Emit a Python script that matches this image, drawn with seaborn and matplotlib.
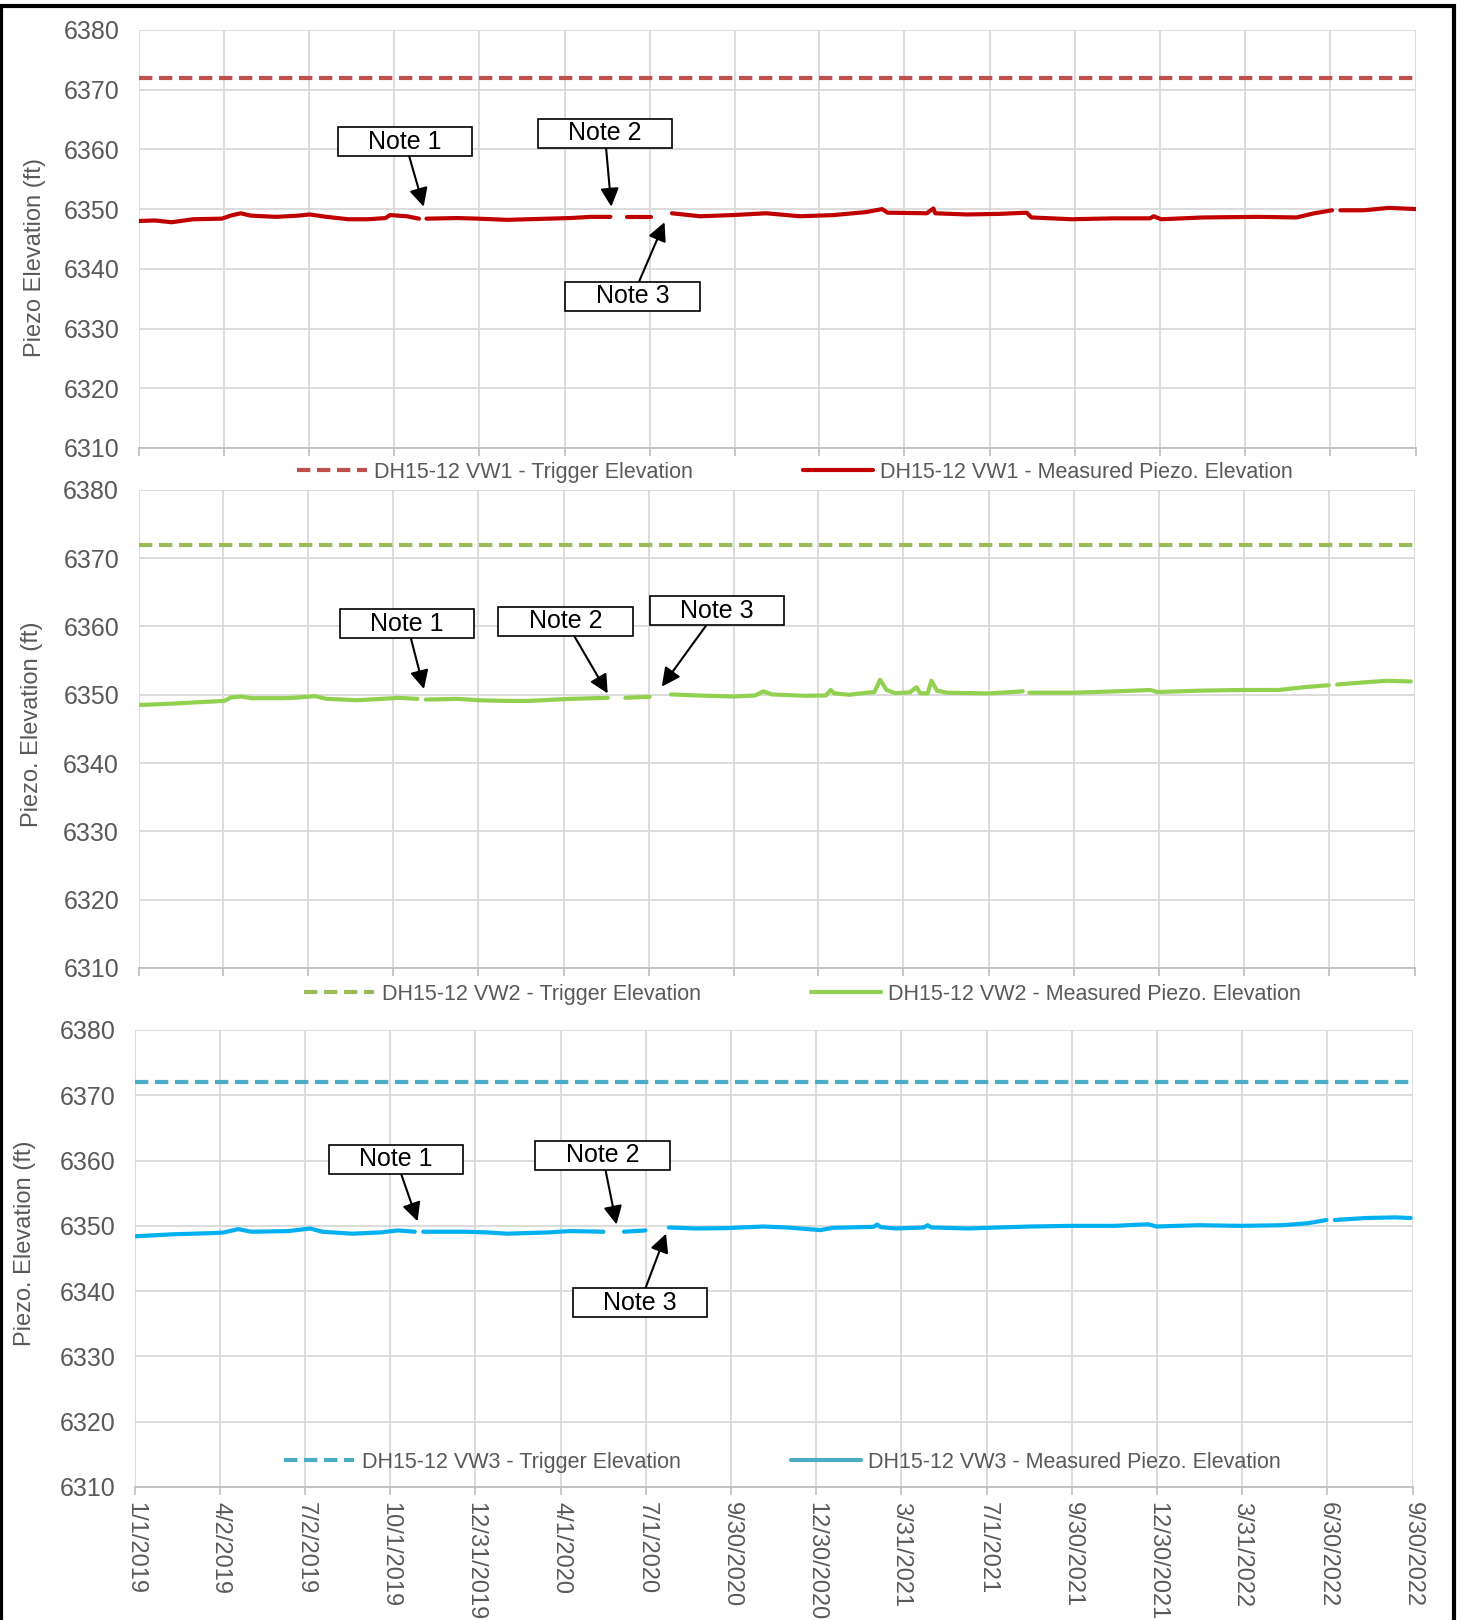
import numpy as np
import pandas as pd
import matplotlib
matplotlib.use('Agg')
import matplotlib.pyplot as plt
import seaborn as sns
from matplotlib.lines import Line2D
from matplotlib.patches import Rectangle

# Piezometer readings (days since 1/1/2019, elevation ft); NaN marks a data gap
start_date = pd.Timestamp('2019-01-01')
end_date = pd.Timestamp('2022-09-30')

days_vw1 = [0, 17, 35, 58, 89, 98, 109, 120, 147, 170, 183, 201, 224, 246, 264, 269, 287, 300, 304,
            308, 341, 363, 395, 417, 462, 484, 505, 514, 523, 548, 560,
            571, 601, 636, 672, 708, 744, 779, 796, 802, 844, 851, 853, 887, 922, 951, 956,
            999, 1044, 1083, 1087, 1095, 1140, 1198, 1240, 1259, 1278, 1282, 1287, 1312, 1339, 1368]
elev_vw1 = [6348.0, 6348.1, 6347.8, 6348.3, 6348.4, 6348.9, 6349.3, 6348.9, 6348.7, 6348.9, 6349.1,
            6348.7, 6348.3, 6348.3, 6348.5, 6349.0, 6348.8, 6348.4, np.nan,
            6348.4, 6348.5, 6348.4, 6348.2, 6348.3, 6348.5, 6348.7, 6348.7, np.nan, 6348.7, 6348.7, np.nan,
            6349.3, 6348.8, 6349.0, 6349.3, 6348.8, 6349.0, 6349.5, 6350.0, 6349.4, 6349.3, 6350.1,
            6349.3, 6349.1, 6349.2, 6349.4, 6348.6,
            6348.3, 6348.45, 6348.45, 6348.8, 6348.3, 6348.6, 6348.7, 6348.6, 6349.3, 6349.8, np.nan,
            6349.8, 6349.8, 6350.2, 6350.0]

days_vw2 = [0, 36, 63, 92, 99, 110, 121, 157, 171, 189, 202, 234, 261, 279, 299, 303,
            308, 342, 364, 396, 418, 463, 503, 512, 522, 548, 560,
            571, 598, 638, 661, 670, 679, 715, 737, 742, 746, 762, 777, 789, 795, 802, 811,
            827, 834, 838, 846, 850, 856, 867, 912, 948, 951,
            955, 1002, 1047, 1085, 1092, 1137, 1182, 1222, 1249, 1276, 1280,
            1285, 1317, 1339, 1364]
elev_vw2 = [6348.5, 6348.7, 6348.9, 6349.1, 6349.6, 6349.75, 6349.5, 6349.5, 6349.6, 6349.8, 6349.4,
            6349.2, 6349.4, 6349.55, 6349.4, np.nan,
            6349.3, 6349.4, 6349.2, 6349.1, 6349.1, 6349.4, 6349.55, np.nan, 6349.55, 6349.7, np.nan,
            6350.05, 6349.9, 6349.75, 6349.9, 6350.5, 6350.05, 6349.85, 6349.9, 6350.7, 6350.2,
            6350.0, 6350.25, 6350.4, 6352.2, 6350.7, 6350.25,
            6350.35, 6351.1, 6350.25, 6350.2, 6352.05, 6350.6, 6350.3, 6350.2, 6350.5, np.nan,
            6350.3, 6350.3, 6350.5, 6350.7, 6350.4, 6350.6, 6350.7, 6350.7, 6351.1, 6351.4, np.nan,
            6351.5, 6351.85, 6352.05, 6351.95]

days_vw3 = [0, 39, 84, 95, 110, 124, 164, 187, 200, 232, 263, 281, 299, 303,
            308, 353, 376, 398, 443, 465, 501, 512, 523, 546, 558,
            571, 600, 632, 672, 698, 733, 747, 790, 794, 798, 814, 844, 848, 852, 891,
            958, 1003, 1048, 1084, 1093, 1138, 1183, 1228, 1255, 1275, 1280,
            1284, 1317, 1349, 1365]
elev_vw3 = [6348.4, 6348.7, 6348.9, 6349.0, 6349.5, 6349.1, 6349.2, 6349.6, 6349.1, 6348.8, 6349.0,
            6349.3, 6349.1, np.nan,
            6349.1, 6349.1, 6349.0, 6348.8, 6349.0, 6349.2, 6349.1, np.nan, 6349.1, 6349.3, np.nan,
            6349.75, 6349.6, 6349.65, 6349.9, 6349.75, 6349.35, 6349.7, 6349.85, 6350.2, 6349.8,
            6349.6, 6349.75, 6350.1, 6349.75, 6349.6,
            6349.9, 6350.0, 6350.0, 6350.25, 6349.9, 6350.1, 6350.0, 6350.1, 6350.4, 6350.9, np.nan,
            6350.9, 6351.2, 6351.3, 6351.2]

trigger_elev = [6372, 6372, 6372]
sensor_names = ['DH15-12 VW1', 'DH15-12 VW2', 'DH15-12 VW3']
y_labels = ['Piezo Elevation (ft)', 'Piezo. Elevation (ft)', 'Piezo. Elevation (ft)']

tick_labels = ['1/1/2019', '4/2/2019', '7/2/2019', '10/1/2019', '12/31/2019', '4/1/2020',
               '7/1/2020', '9/30/2020', '12/30/2020', '3/31/2021', '7/1/2021', '9/30/2021',
               '12/30/2021', '3/31/2022', '6/30/2022', '9/30/2022']
tick_dates = pd.to_datetime(tick_labels, format='%m/%d/%Y')

# notes: (text, text day, text elev, arrow day, arrow elev)
notes_vw1 = [('Note 1', 285, 6361.3, 305, 6350.4),
             ('Note 2', 499, 6362.7, 506, 6350.4),
             ('Note 3', 529, 6335.4, 563, 6347.8)]
notes_vw2 = [('Note 1', 288, 6360.4, 306, 6350.85),
             ('Note 2', 458, 6360.75, 503, 6350.2),
             ('Note 3', 620, 6362.3, 561, 6351.2)]
notes_vw3 = [('Note 1', 279, 6360.2, 302, 6350.7),
             ('Note 2', 500, 6360.8, 515, 6350.2),
             ('Note 3', 540, 6338.2, 568, 6348.8)]


def make_frame(days, elev):
    df = pd.DataFrame({'day': days, 'elev': elev})
    df['seg'] = df['elev'].isna().cumsum()
    df = df.dropna()
    df['date'] = start_date + pd.to_timedelta(df['day'], unit='D')
    return df


sns.set_theme(style='white')
plt.rcParams['font.family'] = ['Liberation Sans', 'DejaVu Sans']

fig = plt.figure(figsize=(14.61, 16.2), dpi=100)

panels = [
    dict(rect=[0.0951, 0.7235, 0.8741, 0.2580], days=days_vw1, elev=elev_vw1,
         meas='#C00000', trig='#C0504D', handle='#C00000', notes=notes_vw1,
         ylab_xy=(-0.073, 0.455), leg_xy=(0.544, 0.7086)),
    dict(rect=[0.0948, 0.4025, 0.8734, 0.2951], days=days_vw2, elev=elev_vw2,
         meas='#92D050', trig='#9BBB59', handle='#92D050', notes=notes_vw2,
         ylab_xy=(-0.075, 0.51), leg_xy=(0.5495, 0.3864)),
    dict(rect=[0.0927, 0.0821, 0.8747, 0.2821], days=days_vw3, elev=elev_vw3,
         meas='#00B0F0', trig='#4BACC6', handle='#4BACC6', notes=notes_vw3,
         ylab_xy=(-0.078, 0.534), leg_xy=(0.5357, 0.0975)),
]

for i, p in enumerate(panels):
    ax = fig.add_axes(p['rect'])
    df = make_frame(p['days'], p['elev'])

    # trigger line
    sns.lineplot(x=[start_date, end_date], y=[trigger_elev[i], trigger_elev[i]],
                 color=p['trig'], lw=3, ax=ax, legend=False)
    ax.lines[-1].set_dashes((3.2, 1.6))

    # measured piezo elevation
    sns.lineplot(data=df, x='date', y='elev', units='seg', estimator=None,
                 color=p['meas'], lw=3, ax=ax, legend=False)

    ax.set_xlim(start_date, end_date)
    ax.set_ylim(6310, 6380)
    ax.set_yticks(range(6310, 6381, 10))
    ax.set_xticks(tick_dates)
    if i == 2:
        ax.set_xticklabels(tick_labels, rotation=270)
    else:
        ax.set_xticklabels([])

    ax.grid(True, color='#D9D9D9', lw=1.3)
    ax.set_axisbelow(True)
    for side in ['top', 'right', 'left']:
        ax.spines[side].set_visible(False)
    ax.spines['bottom'].set_color('#BFBFBF')
    ax.spines['bottom'].set_linewidth(1.3)
    ax.tick_params(axis='x', bottom=True, direction='out', length=6, width=1.2,
                   color='#BFBFBF', labelsize=17, labelcolor='#595959', pad=5)
    ax.tick_params(axis='y', left=False, labelsize=18, labelcolor='#595959', pad=8)

    ax.set_xlabel('')
    ax.set_ylabel(y_labels[i], fontsize=17, color='#595959')
    ax.yaxis.set_label_coords(*p['ylab_xy'])

    for text, tday, tval, aday, aval in p['notes']:
        ax.annotate('    ' + text + '    ',
                    xy=(start_date + pd.Timedelta(days=aday), aval),
                    xytext=(start_date + pd.Timedelta(days=tday), tval),
                    ha='center', va='center', fontsize=18, color='black',
                    bbox=dict(boxstyle='square,pad=0.1', fc='white', ec='black', lw=1.2),
                    arrowprops=dict(arrowstyle='-|>', color='black', lw=1.5,
                                    mutation_scale=28, shrinkA=0, shrinkB=0))

    handles = [Line2D([], [], color=p['trig'], lw=3, dashes=(3.2, 1.6)),
               Line2D([], [], color=p['handle'], lw=3)]
    labels = [sensor_names[i] + ' - Trigger Elevation',
              sensor_names[i] + ' - Measured Piezo. Elevation']
    ax.legend(handles, labels, loc='center', bbox_to_anchor=p['leg_xy'],
              bbox_transform=fig.transFigure, ncol=2, frameon=False, fontsize=15.5,
              handlelength=3.25, handletextpad=0.35, columnspacing=5.1,
              labelcolor='#595959')

# black frame around the whole figure
fig.patches.append(Rectangle((0.0008, -0.1), 0.9945, 1.0963, transform=fig.transFigure,
                             fill=False, ec='black', lw=3, clip_on=False))

fig.savefig('out.png', dpi=100)
